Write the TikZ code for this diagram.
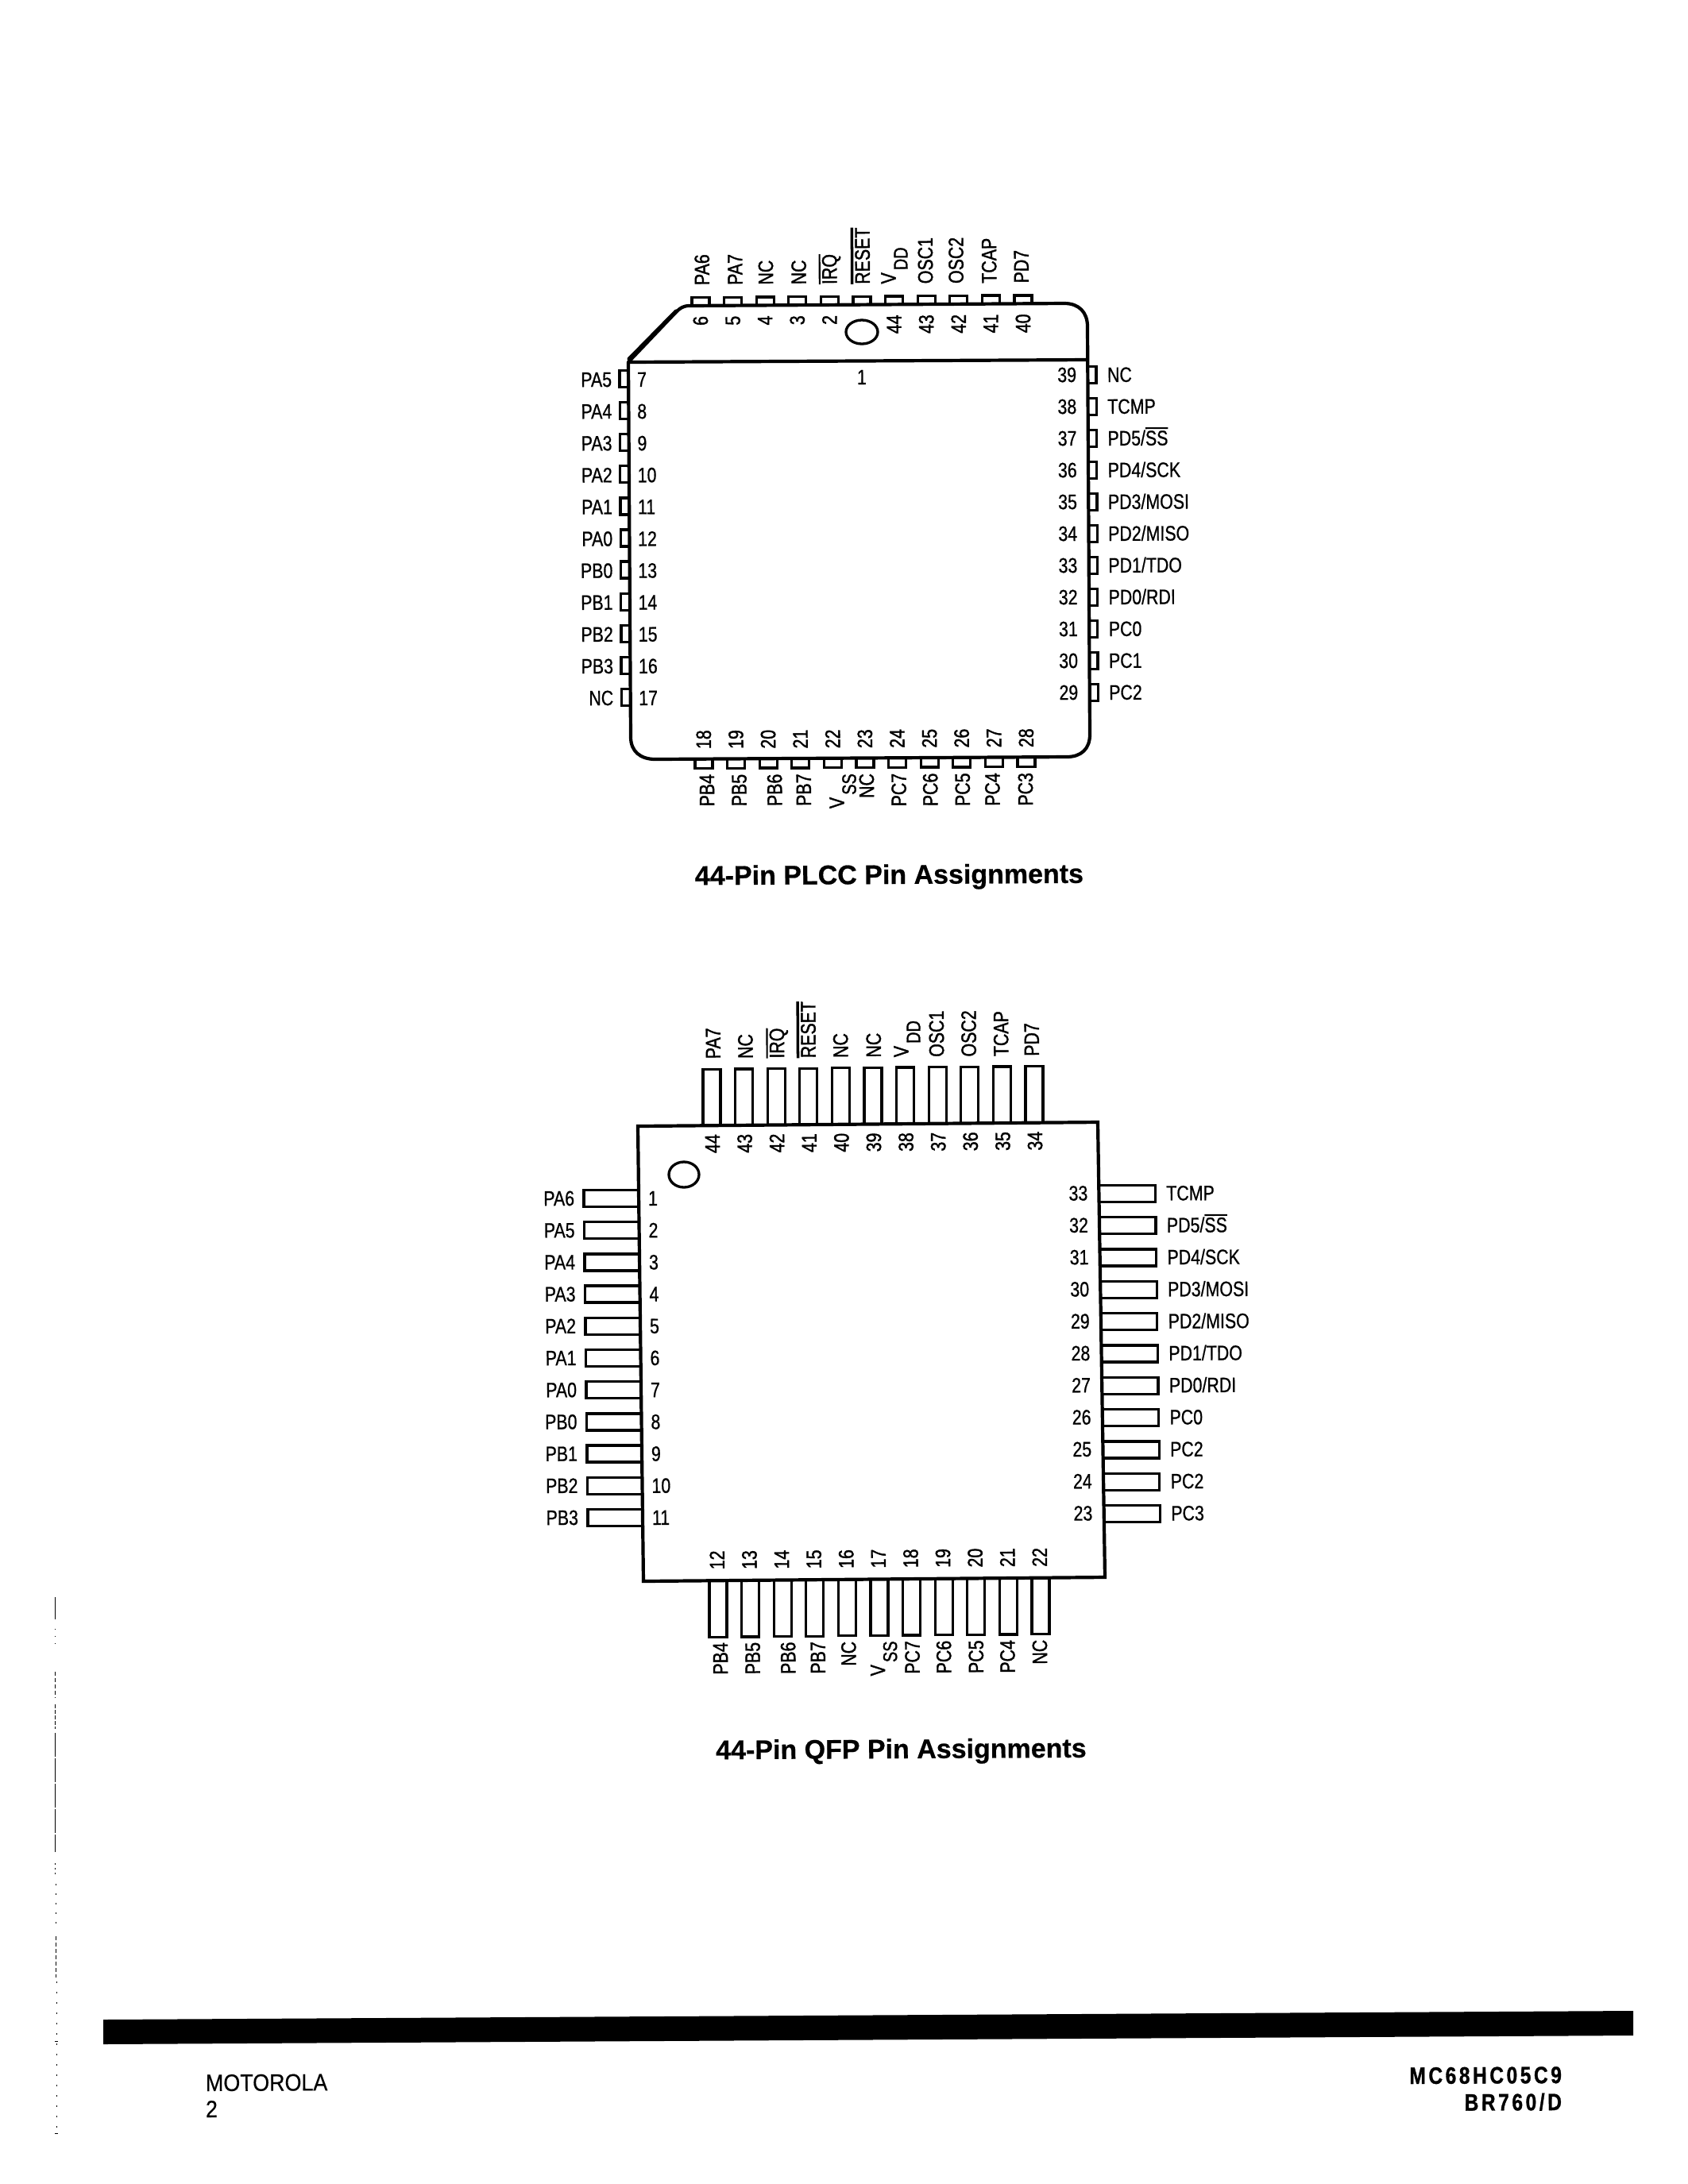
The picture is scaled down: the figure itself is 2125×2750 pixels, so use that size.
\documentclass[tikz,border=0pt]{standalone}
\usepackage{fontspec}
\setmainfont{Liberation Sans}
\newfontfamily\pinfam[FakeStretch=0.81,FakeBold=0.7]{Liberation Sans}
\newfontfamily\rotfam[FakeStretch=0.81,FakeBold=1.4]{Liberation Sans}
\newfontfamily\capfam[FakeBold=0.6]{Liberation Sans Bold}
\newfontfamily\footfam[FakeStretch=0.9,FakeBold=0.4]{Liberation Sans}
\newfontfamily\partfam[FakeStretch=0.82,LetterSpace=12,FakeBold=1]{Liberation Sans Bold}
\newcommand\pinfont{\pinfam\fontsize{7.5pt}{9pt}\selectfont}
\newcommand\rotfont{\rotfam\fontsize{7.5pt}{9pt}\selectfont}
\newcommand\ovl[2][0.6pt]{\leavevmode\vbox{\hrule height #1\kern 0.6pt\hbox{#2}}}
\newcommand\vsub[1]{V\kern 0.3mm\lower 1.5mm\hbox{\fontsize{7pt}{8pt}\selectfont #1}}
\tikzset{
  x=0.1mm,y=-0.1mm,
  pinline/.style={draw=black,line width=0.33mm,line join=miter},
  bodyline/.style={draw=black,line width=0.42mm,line join=round},
  pintext/.style={inner sep=0,outer sep=0,font=\pinfont,text=black},
  rottext/.style={inner sep=0,outer sep=0,font=\rotfont,text=black},
  hl/.style={pintext,rotate=0.3,anchor=base east},
  hr/.style={pintext,rotate=0.3,anchor=base west},
  vl/.style={rottext,rotate=90.3,anchor=base west},
  vr/.style={rottext,rotate=90.3,anchor=base east},
  captext/.style={inner sep=0,outer sep=0,rotate=0.3,anchor=base,font=\capfam\fontsize{9.67pt}{11pt}\selectfont},
  foottext/.style={inner sep=0,outer sep=0,rotate=0.3,anchor=base west,font=\footfam\fontsize{8.5pt}{10pt}\selectfont},
  parttext/.style={inner sep=0,outer sep=0,rotate=0.3,anchor=base east,font=\partfam\fontsize{8.5pt}{10pt}\selectfont},
  scan/.style={draw=black,line width=0.1mm}
}
\begin{document}
\begin{tikzpicture}
\useasboundingbox (0,0) rectangle (2125,2750);
% ---------- PLCC ----------
\foreach \i/\n/\lab/\dx in {0/6/PA6/11,1/5/PA7/12,2/4/NC/10,3/3/NC/11,4/2/{\ovl{IRQ}}/9,5/1/{\ovl[1pt]{RESET}}/10,6/44/{\vsub{DD}}/2,7/43/OSC1/8,8/42/OSC2/6,9/41/TCAP/7,10/40/PD7/7}{
  \pgfmathsetmacro\px{882+40.6*\i}
  \pgfmathsetmacro\yb{385-0.0065*(\px-882)}
  \draw[pinline] (\px-11,\yb) -- (\px-11,\yb-10.5) -- (\px+11,\yb-10.5) -- (\px+11,\yb);
  \node[vl] (plccT\i) at (\px+\dx,\yb-26) {\lab};
  \ifnum\i=5\relax\else
  \node[vr] (plccTn\i) at (\px+9,\yb+13) {\n};
  \fi
}
\foreach \i/\n/\lab in {0/7/PA5,1/8/PA4,2/9/PA3,3/10/PA2,4/11/PA1,5/12/PA0,6/13/PB0,7/14/PB1,8/15/PB2,9/16/PB3,10/17/NC}{
  \pgfmathsetmacro\py{477+40.1*\i}
  \pgfmathsetmacro\bx{791+0.0054*(\py-456)}
  \draw[pinline] (\bx,\py-10.5) -- (\bx-11,\py-10.5) -- (\bx-11,\py+10.5) -- (\bx,\py+10.5);
  \node[hl] (plccL\i) at (\bx-21,\py+10) {\lab};
  \node[hr] (plccLn\i) at (\bx+11,\py+10) {\n};
}
\foreach \i/\n/\lab in {0/39/{NC},1/38/{TCMP},2/37/{PD5/\ovl{SS}},3/36/{PD4/SCK},4/35/{PD3/MOSI},5/34/{PD2/MISO},6/33/{PD1/TDO},7/32/{PD0/RDI},8/31/{PC0},9/30/{PC1},10/29/{PC2}}{
  \pgfmathsetmacro\py{472+40*\i}
  \pgfmathsetmacro\bx{1369+0.0054*(\py-453)}
  \draw[pinline] (\bx,\py-10.5) -- (\bx+11,\py-10.5) -- (\bx+11,\py+10.5) -- (\bx,\py+10.5);
  \node[hr] (plccR\i) at (\bx+25,\py+9) {\lab};
  \node[hl] (plccRn\i) at (\bx-14,\py+9) {\n};
}
\foreach \i/\n/\lab/\dx in {0/18/PB4/13,1/19/PB5/13,2/20/PB6/17,3/21/PB7/13,4/22/{\vsub{SS}}/14,5/23/NC/11,6/24/PC7/11,7/25/PC6/10,8/26/PC5/10,9/27/PC4/7,10/28/PC3/8}{
  \pgfmathsetmacro\px{886+40.6*\i}
  \pgfmathsetmacro\yb{955-0.005*(\px-886)}
  \draw[pinline] (\px-11,\yb) -- (\px-11,\yb+12.5) -- (\px+11,\yb+12.5) -- (\px+11,\yb);
  \node[vr] (plccB\i) at (\px+\dx,\yb+20) {\lab};
  \node[vl] (plccBn\i) at (\px+9,\yb-12) {\n};
}
\draw[bodyline] (791,456) -- (851,393) .. controls (856,388) and (860,385) .. (868,385)
  -- (1340,382) .. controls (1358,382) and (1369,393) .. (1369,411)
  -- (1372,925) .. controls (1372,943) and (1361,953) .. (1343,953)
  -- (825,956) .. controls (806,956) and (794,946) .. (794,928) -- cycle;
\draw[bodyline] (791,456) -- (1369,453);
\draw[draw=black,line width=0.5mm,line cap=round] (792,452) -- (851,392);
\draw[draw=black,line width=0.33mm] (1085,418) ellipse [x radius=20,y radius=15];
\node[pintext,rotate=0.3,anchor=base] (plccone) at (1085,484) {1};
\node[captext] (plcccap) at (1119.5,1113) {44-Pin PLCC Pin Assignments};
% ---------- QFP ----------
\foreach \i/\n/\lab/\dx in {0/44/PA7/11,1/43/NC/11,2/42/{\ovl{IRQ}}/10,3/41/{\ovl[1pt]{RESET}}/9,4/40/NC/9,5/39/NC/10,6/38/{\vsub{DD}}/4,7/37/OSC1/8,8/36/OSC2/8,9/35/TCAP/8,10/34/PD7/6}{
  \pgfmathsetmacro\px{896+40.6*\i}
  \pgfmathsetmacro\yb{1418-0.0086*(\px-803)}
  \draw[pinline] (\px-11,\yb) -- (\px-11,\yb-71) -- (\px+11,\yb-71) -- (\px+11,\yb);
  \node[vl] (qfpT\i) at (\px+\dx,\yb-84) {\lab};
  \node[vr] (qfpTn\i) at (\px+10,\yb+11) {\n};
}
\foreach \i/\n/\lab in {0/1/PA6,1/2/PA5,2/3/PA4,3/4/PA3,4/5/PA2,5/6/PA1,6/7/PA0,7/8/PB0,8/9/PB1,9/10/PB2,10/11/PB3}{
  \pgfmathsetmacro\py{1509+40.2*\i}
  \pgfmathsetmacro\bx{803+0.0122*(\py-1418)}
  \draw[pinline] (\bx,\py-10.5) -- (\bx-69,\py-10.5) -- (\bx-69,\py+10.5) -- (\bx,\py+10.5);
  \node[hl] (qfpL\i) at (\bx-81,\py+9) {\lab};
  \node[hr] (qfpLn\i) at (\bx+12,\py+9) {\n};
}
\foreach \i/\n/\lab in {0/33/{TCMP},1/32/{PD5/\ovl{SS}},2/31/{PD4/SCK},3/30/{PD3/MOSI},4/29/{PD2/MISO},5/28/{PD1/TDO},6/27/{PD0/RDI},7/26/{PC0},8/25/{PC2},9/24/{PC2},10/23/{PC3}}{
  \pgfmathsetmacro\py{1503+40.3*\i}
  \pgfmathsetmacro\bx{1382+0.015*(\py-1413)}
  \draw[pinline] (\bx,\py-10.5) -- (\bx+71,\py-10.5) -- (\bx+71,\py+10.5) -- (\bx,\py+10.5);
  \node[hr] (qfpR\i) at (\bx+85,\py+8.5) {\lab};
  \node[hl] (qfpRn\i) at (\bx-14,\py+8.5) {\n};
}
\foreach \i/\n/\lab/\dx in {0/12/PB4/12,1/13/PB5/12,2/14/PB6/16,3/15/PB7/13,4/16/NC/11,5/17/{\vsub{SS}}/7,6/18/PC7/10,7/19/PC6/9,8/20/PC5/9,9/21/PC4/8,10/22/NC/8}{
  \pgfmathsetmacro\px{904+40.6*\i}
  \pgfmathsetmacro\yb{1991-0.0086*(\px-810)}
  \draw[pinline] (\px-11,\yb) -- (\px-11,\yb+71) -- (\px+11,\yb+71) -- (\px+11,\yb);
  \node[vr] (qfpB\i) at (\px+\dx,\yb+78) {\lab};
  \node[vl] (qfpBn\i) at (\px+8,\yb-14) {\n};
}
\draw[bodyline,line join=miter] (803,1418) -- (1382,1413) -- (1391,1986) -- (810,1991) -- cycle;
\draw[draw=black,line width=0.33mm] (861,1479) ellipse [x radius=19,y radius=16];
\node[captext] (qfpcap) at (1134.5,2214) {44-Pin QFP Pin Assignments};
% ---------- footer ----------
\fill[black] (130,2543) -- (2056,2532) -- (2056,2563) -- (130,2574) -- cycle;
\node[foottext] (moto) at (259,2633) {MOTOROLA};
\node[foottext] (pageno) at (259,2666) {2};
\node[parttext] (part) at (1966,2623) {MC68HC05C9};
\node[parttext] (doc) at (1966,2657) {BR760/D};
% ---------- scan marks at the left edge ----------
\draw[scan] (69,2011) -- (69,2039);
\draw[scan,dash pattern=on 0.1mm off 0.8mm] (69,2051) -- (69,2071);
\draw[scan,dash pattern=on 0.5mm off 0.3mm] (69,2105) -- (69,2138);
\draw[scan,dash pattern=on 0.5mm off 0.2mm] (69,2146) -- (69,2177);
\draw[scan,dash pattern=on 3mm off 0.2mm] (69,2182) -- (69,2332);
\draw[scan,dash pattern=on 0.2mm off 0.4mm] (69.5,2346) -- (69.5,2361);
\draw[scan,dash pattern=on 0.2mm off 1mm] (70,2372) -- (70,2430);
\draw[scan,dash pattern=on 0.5mm off 0.3mm] (70,2438) -- (70,2490);
\draw[scan,dash pattern=on 0.2mm off 1.1mm] (71,2495) -- (71,2686);
\draw[scan] (69,2570) -- (73,2570);
\draw[scan] (69,2686) -- (73,2686);
\end{tikzpicture}
\end{document}
